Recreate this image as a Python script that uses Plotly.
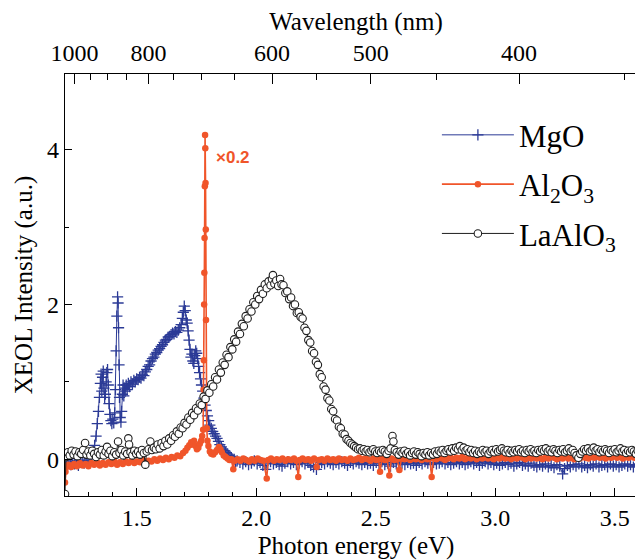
import plotly.graph_objects as go

# ---------------- data ----------------
# MgO  (photon energy eV, intensity a.u.)
mgo_ev = [1.200,1.208,1.216,1.224,1.232,1.240,1.248,1.256,1.264,1.272,1.280,1.288,1.296,1.304,1.312,1.318,1.324,
          1.330,1.335,1.340,1.344,1.348,1.351,1.354,1.357,1.360,1.363,1.366,1.369,1.372,1.375,1.378,1.381,1.384,1.388,
          1.392,1.396,1.400,1.404,1.408,1.411,1.414,1.417,1.420,1.422,1.424,1.426,1.428,1.431,1.434,1.437,1.440,1.443,
          1.446,1.449,1.452,1.456,1.460,1.465,1.470,1.476,1.482,1.488,1.494,1.500,1.506,1.512,1.518,1.524,1.530,1.536,
          1.542,1.548,1.554,1.560,1.566,1.572,1.578,1.584,1.590,1.596,1.602,1.608,1.614,1.620,1.626,1.632,1.638,1.644,
          1.650,1.656,1.662,1.668,1.674,1.680,1.686,1.691,1.695,1.699,1.703,1.707,1.711,1.715,1.719,1.723,1.727,1.731,
          1.735,1.739,1.743,1.747,1.751,1.755,1.759,1.763,1.767,1.771,1.776,1.781,1.786,1.791,1.796,1.801,1.806,1.812,
          1.818,1.824,1.830,1.836,1.842,1.848,1.854,1.860,1.866,1.872,1.878,1.884,1.890,1.896,1.902,1.908,1.914,1.920,
          1.932,1.944,1.956,1.968,1.980,1.992,2.004,2.016,2.028,2.040,2.048,2.060,2.072,2.084,2.096,2.108,2.120,2.132,
          2.144,2.156,2.168,2.180,2.192,2.204,2.216,2.228,2.240,2.252,2.262,2.274,2.286,2.298,2.310,2.322,2.334,2.346,
          2.358,2.370,2.382,2.394,2.406,2.418,2.430,2.442,2.454,2.466,2.478,2.490,2.502,2.514,2.526,2.538,2.550,2.562,
          2.574,2.586,2.598,2.610,2.622,2.634,2.646,2.658,2.670,2.682,2.694,2.706,2.718,2.730,2.742,2.754,2.766,2.778,
          2.790,2.802,2.814,2.826,2.838,2.850,2.862,2.874,2.886,2.898,2.910,2.922,2.934,2.946,2.958,2.970,2.982,2.994,
          3.006,3.018,3.030,3.042,3.054,3.066,3.078,3.090,3.102,3.114,3.126,3.138,3.150,3.162,3.174,3.186,3.198,3.210,
          3.222,3.234,3.246,3.258,3.270,3.282,3.290,3.302,3.314,3.326,3.338,3.350,3.362,3.374,3.386,3.398,3.410,3.422,
          3.434,3.446,3.458,3.470,3.482,3.494,3.506,3.518,3.530,3.542,3.554,3.566,3.578,3.590,3.602,3.614,3.626]
mgo_int = [-0.05,-0.09,-0.04,-0.07,-0.02,-0.06,-0.03,-0.08,-0.04,-0.02,-0.05,-0.01,-0.03,0.01,0.04,0.10,0.18,
           0.30,0.46,0.62,0.80,0.98,1.10,0.88,1.06,1.14,0.92,0.80,0.84,1.00,1.12,1.16,0.96,0.72,0.58,
           0.50,0.46,0.52,0.47,0.60,0.90,1.40,1.85,2.10,2.02,1.70,1.22,0.80,0.54,0.48,0.62,0.84,0.96,
           0.82,0.92,0.88,0.96,0.90,0.98,0.94,1.00,0.97,1.02,1.00,1.04,1.03,1.06,1.05,1.09,1.08,1.13,
           1.16,1.20,1.22,1.27,1.30,1.32,1.36,1.38,1.41,1.43,1.46,1.48,1.51,1.54,1.55,1.58,1.59,1.61,
           1.63,1.62,1.65,1.64,1.67,1.70,1.74,1.82,1.90,1.98,1.92,1.80,1.76,1.66,1.54,1.42,1.32,1.36,
           1.27,1.24,1.34,1.40,1.37,1.30,1.20,1.12,1.04,0.96,0.88,0.79,0.70,0.63,0.56,0.50,0.44,0.40,
           0.36,0.33,0.30,0.27,0.23,0.19,0.16,0.13,0.11,0.09,0.07,0.05,0.04,0.02,0.00,0.00,-0.03,-0.02,
           -0.04,-0.06,-0.03,-0.07,-0.05,-0.02,-0.06,-0.04,-0.08,-0.13,-0.05,-0.03,-0.06,-0.04,-0.07,-0.09,-0.05,-0.03,
           -0.06,-0.04,-0.07,-0.05,-0.03,-0.06,-0.04,-0.08,-0.10,-0.13,-0.07,-0.04,-0.06,-0.03,-0.05,-0.07,-0.04,-0.06,
           -0.03,-0.05,-0.08,-0.04,-0.06,-0.03,-0.05,-0.07,-0.04,-0.06,-0.05,-0.08,-0.04,-0.06,-0.03,-0.07,-0.05,-0.09,
           -0.04,-0.06,-0.03,-0.05,-0.07,-0.04,-0.06,-0.05,-0.08,-0.04,-0.06,-0.03,-0.05,-0.07,-0.04,-0.06,-0.05,-0.03,
           -0.06,-0.04,-0.07,-0.05,-0.03,-0.06,-0.04,-0.07,-0.05,-0.03,-0.06,-0.04,-0.08,-0.05,-0.03,-0.06,-0.04,-0.07,
           -0.05,-0.08,-0.06,-0.04,-0.07,-0.05,-0.09,-0.06,-0.04,-0.08,-0.06,-0.09,-0.05,-0.08,-0.10,-0.07,-0.09,-0.06,
           -0.10,-0.08,-0.11,-0.07,-0.09,-0.19,-0.12,-0.08,-0.10,-0.07,-0.09,-0.06,-0.10,-0.08,-0.11,-0.07,-0.09,-0.06,
           -0.10,-0.08,-0.07,-0.10,-0.06,-0.09,-0.07,-0.10,-0.08,-0.06,-0.09,-0.07,-0.10,-0.08,-0.06,-0.09,-0.07]

# Al2O3 (scaled x0.2)
al2o3_ev = [1.200,1.202,1.206,1.214,1.226,1.238,1.250,1.262,1.274,1.286,1.298,1.310,1.322,1.334,1.346,1.358,1.370,
            1.382,1.394,1.406,1.418,1.430,1.442,1.454,1.466,1.478,1.490,1.502,1.514,1.526,1.538,1.550,1.562,1.574,
            1.586,1.598,1.610,1.622,1.634,1.646,1.658,1.670,1.682,1.694,1.704,1.712,1.720,1.728,1.734,1.740,1.746,
            1.752,1.758,1.764,1.770,1.774,1.778,1.780,1.781,1.782,1.783,1.784,1.785,1.786,1.787,1.788,1.789,1.790,
            1.791,1.793,1.796,1.800,1.806,1.812,1.820,1.828,1.836,1.844,1.850,1.856,1.864,1.872,1.880,1.888,1.896,
            1.904,1.910,1.922,1.934,1.946,1.958,1.970,1.982,1.994,2.006,2.018,2.030,2.044,2.050,2.062,2.074,2.086,
            2.098,2.110,2.122,2.134,2.146,2.158,2.168,2.176,2.182,2.194,2.206,2.218,2.230,2.242,2.253,2.262,2.274,
            2.286,2.298,2.310,2.322,2.334,2.346,2.358,2.370,2.382,2.394,2.406,2.418,2.430,2.442,2.454,2.466,2.478,
            2.490,2.502,2.512,2.518,2.526,2.538,2.548,2.557,2.566,2.578,2.590,2.599,2.608,2.620,2.632,2.644,2.656,
            2.668,2.680,2.692,2.704,2.716,2.726,2.734,2.742,2.754,2.766,2.778,2.790,2.802,2.814,2.826,2.838,2.850,
            2.862,2.874,2.886,2.898,2.910,2.922,2.934,2.946,2.958,2.970,2.982,2.994,3.006,3.018,3.030,3.042,3.054,
            3.066,3.078,3.090,3.102,3.114,3.126,3.138,3.150,3.162,3.174,3.186,3.198,3.210,3.222,3.234,3.246,3.258,
            3.270,3.282,3.294,3.306,3.318,3.330,3.342,3.354,3.366,3.378,3.390,3.402,3.414,3.426,3.438,3.450,3.462,
            3.474,3.486,3.498,3.510,3.522,3.534,3.546,3.558,3.570,3.582,3.594,3.606,3.618,3.630]
al2o3_int = [-0.30,-0.16,-0.10,-0.07,-0.10,-0.06,-0.09,-0.05,-0.08,-0.06,-0.09,-0.05,-0.07,-0.04,-0.08,-0.05,-0.07,
             -0.04,-0.06,-0.03,-0.07,-0.04,-0.06,-0.03,-0.05,-0.02,-0.05,-0.03,-0.04,-0.01,-0.04,-0.02,-0.03,0.00,
             -0.02,0.01,-0.01,0.02,0.00,0.03,0.02,0.05,0.04,0.08,0.11,0.15,0.18,0.22,0.19,0.24,0.17,
             0.13,0.15,0.20,0.24,0.30,0.38,0.90,1.28,2.00,2.41,2.86,3.53,4.19,4.02,3.57,2.97,1.80,
             0.90,0.40,0.24,0.17,0.10,0.07,0.06,0.09,0.12,0.16,0.13,0.09,0.05,0.03,0.01,-0.01,0.00,
             -0.13,-0.02,0.00,-0.02,0.01,-0.01,-0.03,0.00,-0.02,0.01,-0.01,-0.02,-0.25,-0.01,0.01,-0.02,0.00,
             -0.01,0.01,-0.02,0.00,-0.01,0.01,-0.02,-0.23,-0.01,0.01,-0.01,0.00,-0.02,0.01,-0.10,-0.01,0.00,
             -0.02,0.01,-0.01,0.00,-0.02,0.01,-0.01,0.00,-0.02,0.01,-0.01,0.00,0.02,-0.01,0.01,0.00,-0.02,
             0.01,-0.01,0.00,-0.16,0.01,-0.01,0.00,-0.21,0.01,-0.01,0.00,-0.14,0.01,0.00,0.02,-0.01,0.01,
             0.00,0.02,-0.01,0.01,0.00,0.02,-0.23,0.01,0.00,0.02,0.01,-0.01,0.01,0.02,0.00,0.02,0.01,
             0.03,0.00,0.02,0.01,0.03,0.00,0.02,0.01,0.03,0.01,0.02,0.00,0.02,0.01,0.03,0.01,0.02,
             0.00,0.02,0.01,0.03,0.02,0.00,0.02,0.01,0.03,0.01,0.02,0.00,0.02,0.01,0.03,0.02,0.00,
             0.02,0.01,0.03,0.01,0.02,0.00,0.02,0.01,0.03,0.02,0.01,0.03,0.02,0.04,0.02,0.03,0.01,
             0.03,0.02,0.04,0.02,0.03,0.01,0.03,0.02,0.04,0.02,0.03,0.01,0.03,0.02]

# LaAlO3
laalo3_ev = [1.200,1.204,1.212,1.220,1.228,1.236,1.244,1.252,1.260,1.268,1.276,1.284,1.290,1.298,1.306,1.314,1.322,
             1.330,1.338,1.346,1.354,1.362,1.370,1.376,1.382,1.390,1.398,1.406,1.414,1.422,1.428,1.436,1.444,1.452,
             1.460,1.465,1.468,1.474,1.482,1.490,1.498,1.506,1.514,1.522,1.530,1.536,1.542,1.550,1.557,1.564,1.572,
             1.580,1.588,1.596,1.604,1.612,1.620,1.628,1.636,1.644,1.652,1.660,1.668,1.676,1.684,1.692,1.700,1.708,
             1.716,1.724,1.732,1.740,1.748,1.756,1.764,1.772,1.780,1.788,1.796,1.804,1.812,1.820,1.828,1.836,1.844,
             1.852,1.860,1.868,1.876,1.884,1.892,1.900,1.908,1.916,1.924,1.932,1.940,1.948,1.956,1.964,1.972,1.980,
             1.988,1.996,2.004,2.012,2.020,2.028,2.036,2.044,2.052,2.060,2.066,2.070,2.076,2.084,2.092,2.100,2.106,
             2.114,2.122,2.130,2.138,2.146,2.154,2.162,2.170,2.178,2.186,2.194,2.202,2.210,2.218,2.226,2.234,2.242,
             2.250,2.258,2.266,2.274,2.282,2.290,2.298,2.306,2.314,2.322,2.330,2.338,2.346,2.354,2.362,2.370,2.378,
             2.386,2.394,2.402,2.410,2.418,2.426,2.434,2.442,2.450,2.458,2.466,2.474,2.482,2.490,2.498,2.506,2.514,
             2.522,2.530,2.538,2.546,2.554,2.562,2.570,2.574,2.580,2.588,2.596,2.604,2.612,2.620,2.628,2.636,2.644,
             2.652,2.660,2.668,2.676,2.684,2.692,2.700,2.708,2.716,2.724,2.732,2.740,2.748,2.756,2.764,2.772,2.780,
             2.788,2.796,2.804,2.812,2.820,2.828,2.836,2.844,2.852,2.860,2.868,2.876,2.884,2.892,2.900,2.908,2.916,
             2.924,2.932,2.940,2.948,2.956,2.964,2.972,2.980,2.988,2.996,3.004,3.012,3.020,3.028,3.036,3.044,3.052,
             3.060,3.068,3.076,3.084,3.092,3.100,3.108,3.116,3.124,3.132,3.140,3.148,3.156,3.164,3.172,3.180,3.188,
             3.196,3.204,3.212,3.220,3.228,3.236,3.244,3.252,3.260,3.268,3.276,3.284,3.292,3.300,3.308,3.316,3.324,
             3.332,3.340,3.348,3.356,3.364,3.372,3.380,3.388,3.396,3.404,3.412,3.420,3.428,3.436,3.444,3.452,3.460,
             3.468,3.476,3.484,3.492,3.500,3.508,3.516,3.524,3.532,3.540,3.548,3.556,3.564,3.572,3.580,3.588,3.596,
             3.604,3.612,3.620,3.628]
laalo3_int = [-0.45,0.03,0.09,0.05,0.11,0.06,0.10,0.04,0.09,0.07,0.12,0.21,0.06,0.10,0.05,0.11,0.07,
              0.03,0.09,0.06,0.12,0.05,0.10,0.16,0.07,0.11,0.04,0.09,0.06,0.23,0.08,0.12,0.05,0.10,
              0.07,0.27,0.19,0.09,0.05,0.11,0.07,0.10,0.06,0.12,0.08,-0.07,0.10,0.13,0.23,0.12,0.15,
              0.13,0.19,0.14,0.21,0.17,0.24,0.19,0.27,0.24,0.31,0.29,0.36,0.33,0.41,0.40,0.47,0.45,
              0.54,0.51,0.60,0.57,0.66,0.63,0.72,0.70,0.81,0.78,0.89,0.86,0.97,0.94,1.06,1.03,1.16,
              1.12,1.25,1.22,1.35,1.32,1.45,1.42,1.55,1.52,1.65,1.62,1.75,1.72,1.85,1.82,1.94,1.91,
              2.03,2.00,2.11,2.07,2.19,2.14,2.26,2.21,2.30,2.25,2.33,2.38,2.27,2.31,2.24,2.33,2.26,
              2.25,2.15,2.17,2.07,2.09,1.98,2.00,1.89,1.90,1.84,1.82,1.70,1.66,1.54,1.51,1.40,1.37,
              1.26,1.22,1.10,1.06,0.94,0.90,0.79,0.76,0.65,0.62,0.52,0.50,0.42,0.40,0.33,0.32,0.26,
              0.24,0.21,0.19,0.17,0.15,0.13,0.14,0.11,0.13,0.10,0.12,0.09,0.11,0.13,0.10,0.08,0.11,
              0.09,0.12,0.10,0.07,0.11,0.14,0.30,0.23,0.12,0.09,0.06,0.10,0.08,0.11,0.07,0.09,0.05,
              0.08,0.10,0.06,0.09,0.07,0.04,0.08,0.06,0.09,0.05,0.08,0.06,0.10,0.07,0.11,0.09,0.12,
              0.08,0.11,0.13,0.10,0.14,0.11,0.15,0.13,0.17,0.12,0.15,0.11,0.13,0.09,0.12,0.08,0.11,
              0.07,0.10,0.08,0.12,0.09,0.11,0.07,0.10,0.12,0.09,0.13,0.10,0.12,0.14,0.11,0.09,0.12,
              0.08,0.11,0.09,0.12,0.10,0.13,0.09,0.11,0.08,0.12,0.10,0.13,0.09,0.11,0.08,0.12,0.10,
              0.13,0.11,0.14,0.10,0.12,0.09,0.13,0.11,0.08,0.12,0.10,0.13,0.09,0.11,0.14,0.10,0.12,
              0.08,0.05,0.02,0.07,0.10,0.13,0.11,0.14,0.10,0.12,0.15,0.11,0.13,0.09,0.12,0.10,0.13,
              0.11,0.08,0.12,0.10,0.13,0.09,0.11,0.14,0.10,0.12,0.08,0.11,0.09,0.12,0.10,0.07,0.11,
              0.09,0.12,0.10,0.08]

assert len(mgo_ev) == len(mgo_int), (len(mgo_ev), len(mgo_int))
assert len(al2o3_ev) == len(al2o3_int), (len(al2o3_ev), len(al2o3_int))
assert len(laalo3_ev) == len(laalo3_int), (len(laalo3_ev), len(laalo3_int))

# axis ticks
energy_ticks = [1.5, 2.0, 2.5, 3.0, 3.5]
energy_tick_text = ["1.5", "2.0", "2.5", "3.0", "3.5"]
wavelength_major = [1000, 800, 600, 500, 400]
wavelength_minor = [950, 900, 850, 750, 700, 650, 550, 450, 350]
intensity_ticks = [0, 2, 4]
intensity_minor = [1, 3]

HC = 1239.84  # eV*nm
X_RANGE = [1.2, 3.635]
Y_RANGE = [-0.475, 4.98]

BLUE = "#2B3A96"
RED = "#F0552A"
BLACK = "#1E1E1E"
SERIF = "Liberation Serif"

fig = go.Figure()
fig.add_trace(go.Scatter(
    x=mgo_ev, y=mgo_int, name="MgO", legendgroup="a", mode="lines+markers",
    line=dict(color=BLUE, width=1),
    marker=dict(symbol="cross-thin-open", size=8, line=dict(color=BLUE, width=1.3))))
fig.add_trace(go.Scatter(
    x=al2o3_ev, y=al2o3_int, name="Al<sub>2</sub>O<sub>3</sub>", legendgroup="b", mode="lines+markers",
    line=dict(color=RED, width=1.6),
    marker=dict(symbol="circle", size=6.5, color=RED, line=dict(width=0))))
fig.add_trace(go.Scatter(
    x=laalo3_ev, y=laalo3_int, name="LaAlO<sub>3</sub>", legendgroup="c", mode="lines+markers",
    line=dict(color=BLACK, width=1),
    marker=dict(symbol="circle", size=7.5, color="white", line=dict(color=BLACK, width=1.1))))
# empty trace so that the wavelength (top) and right axes get drawn
fig.add_trace(go.Scatter(x=[None], y=[None], xaxis="x2", yaxis="y2", showlegend=False,
                         hoverinfo="skip", mode="markers"))

minor_energy = [round(1.2 + 0.1 * i, 1) for i in range(0, 25)]
minor_energy = [v for v in minor_energy if v not in energy_ticks]

axis_common = dict(showline=True, linecolor="black", linewidth=1.2, showgrid=False, zeroline=False,
                   ticks="inside", tickcolor="black", tickwidth=1.2, automargin=False,
                   tickfont=dict(family=SERIF, size=24, color="black"))

fig.update_layout(
    width=643, height=552,
    margin=dict(l=57, r=4, t=66, b=64),
    paper_bgcolor="white", plot_bgcolor="white",
    font=dict(family=SERIF, size=24, color="black"),
    xaxis=dict(range=X_RANGE, tickmode="array", tickvals=energy_ticks, ticktext=energy_tick_text,
               ticklen=8, ticklabelstandoff=0,
               minor=dict(tickmode="array", tickvals=minor_energy, ticks="inside", ticklen=4,
                          tickcolor="black", tickwidth=1.2),
               title=dict(text="Photon energy (eV)", standoff=8, font=dict(family=SERIF, size=25)),
               **axis_common),
    xaxis2=dict(range=X_RANGE, overlaying="x", side="top", anchor="y", tickmode="array",
                tickvals=[HC / w for w in wavelength_major], ticktext=[str(w) for w in wavelength_major],
                ticklen=10, ticklabelstandoff=2,
                minor=dict(tickmode="array", tickvals=[HC / w for w in wavelength_minor], ticks="inside",
                           ticklen=6, tickcolor="black", tickwidth=1.2),
                title=dict(text="Wavelength (nm)", standoff=6, font=dict(family=SERIF, size=25)),
                **axis_common),
    yaxis=dict(range=Y_RANGE, tickmode="array", tickvals=intensity_ticks, ticktext=[str(v) for v in intensity_ticks],
               ticklen=7, ticklabelstandoff=0,
               minor=dict(tickmode="array", tickvals=intensity_minor, ticks="inside", ticklen=4,
                          tickcolor="black", tickwidth=1.2),
               title=dict(text="XEOL Intensity (a.u.)", standoff=7, font=dict(family=SERIF, size=25)),
               **axis_common),
    yaxis2=dict(range=Y_RANGE, overlaying="y", side="right", anchor="x", tickmode="array",
                tickvals=intensity_ticks, showticklabels=False, ticks="inside", ticklen=7,
                tickcolor="black", tickwidth=1.2, showline=False, showgrid=False, zeroline=False,
                automargin=False),
    legend=dict(x=0.639, y=0.919, xanchor="left", yanchor="top", bgcolor="rgba(0,0,0,0)",
                font=dict(family=SERIF, size=31, color="black"), traceorder="grouped",
                tracegroupgap=6, itemwidth=72),
    annotations=[dict(x=1.823, y=3.90, xref="x", yref="y", text="<b>×0.2</b>", showarrow=False,
                      xanchor="left", yanchor="middle",
                      font=dict(family="Liberation Sans", size=17, color=RED))],
    showlegend=True,
)

fig.write_html("out.html")
